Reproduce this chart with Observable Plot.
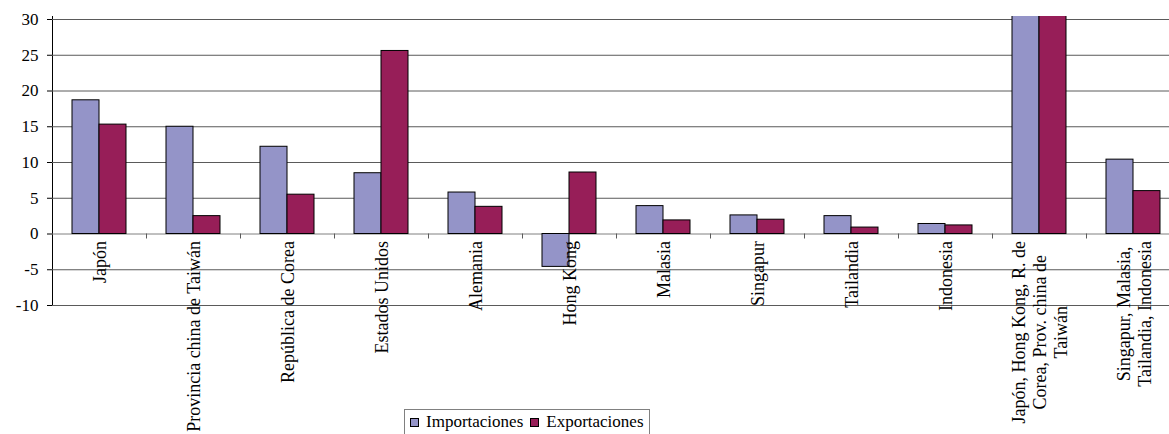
<!DOCTYPE html>
<html>
<head>
<meta charset="utf-8">
<script src="https://cdn.jsdelivr.net/npm/d3@7"></script>
<script src="https://cdn.jsdelivr.net/npm/@observablehq/plot@0.6"></script>
<style>
  body { margin: 0; background: #fff; }
  #wrap { position: relative; width: 1169px; height: 434px; overflow: hidden; font-family: 'Liberation Serif', 'Times New Roman', serif; background: #fff; }
  #wrap svg, #wrap svg g, #wrap svg text { font-family: 'Liberation Serif', 'Times New Roman', serif !important; }
  #legend { position: absolute; left: 404px; top: 409px; width: 246px; height: 40px; border: 1px solid #808080; background: #fff;
            font-size: 17px; line-height: 20px; padding: 2px 0 0 5px; box-sizing: border-box; white-space: nowrap; color: #000; }
  .sw { display: inline-block; width: 9px; height: 9px; box-sizing: border-box; border: 1px solid #000; margin-right: 7px; vertical-align: 0px; }
  .item2 { margin-left: 7px; }
</style>
</head>
<body>
<div id="wrap"></div>
<script>
// ---- data ----
const categories = [
  "Japón",
  "Provincia china de Taiwán",
  "República de Corea",
  "Estados Unidos",
  "Alemania",
  "Hong Kong",
  "Malasia",
  "Singapur",
  "Tailandia",
  "Indonesia",
  "Japón, Hong Kong, R. de\nCorea, Prov. china de\nTaiwán",
  "Singapur, Malasia,\nTailandia, Indonesia"
];
const series = ["Importaciones", "Exportaciones"];
const importaciones = [18.7, 15.0, 12.2, 8.5, 5.8, -4.6, 3.9, 2.6, 2.5, 1.4, 41.3, 10.4];
const exportaciones = [15.3, 2.5, 5.5, 25.6, 3.8, 8.6, 1.9, 2.0, 0.9, 1.2, 31.9, 6.0];
const yTicks = [-10, -5, 0, 5, 10, 15, 20, 25, 30];
const colors = ["#9494C8", "#971E58"];

const data = categories.flatMap((c, i) => [
  {categoria: c, serie: series[0], valor: importaciones[i]},
  {categoria: c, serie: series[1], valor: exportaciones[i]}
]);

const chart = Plot.plot({
  width: 1169,
  height: 434,
  marginLeft: 50,
  marginRight: -12,
  marginTop: 16,
  marginBottom: 129,
  style: {fontFamily: "'Liberation Serif', 'Times New Roman', serif", fontSize: "17px", color: "#000", background: "#fff", overflow: "visible"},
  fx: {domain: categories, padding: 0, axis: null, label: null},
  x: {domain: series, paddingInner: 0, paddingOuter: 0.71, axis: null},
  y: {domain: [-10, 30.42], ticks: yTicks, tickFormat: d => String(d), tickSize: 5, tickPadding: 9, line: true, label: null},
  color: {domain: series, range: colors},
  marks: [
    Plot.ruleY(yTicks.filter(d => d !== 0), {stroke: "#5a5a5a"}),
    Plot.ruleY([0], {stroke: "#808080"}),
    Plot.barY(data, {fx: "categoria", x: "serie", y: "valor", fill: "serie", stroke: "#000", strokeWidth: 1, clip: true}),
    Plot.text(categories, {fx: d => d, y: () => 0, text: d => d, rotate: -90, textAnchor: "end", lineAnchor: "middle",
                           lineHeight: 1.17, dy: 7, fontSize: 18, fill: "#000"})
  ]
});

const wrap = document.getElementById("wrap");
wrap.append(chart);

// center the lines of multi-line category labels within their block
d3.select(chart).selectAll("g[aria-label='text'] text").each(function() {
  const tspans = Array.from(this.querySelectorAll("tspan"));
  if (tspans.length < 2) return;
  const max = d3.max(tspans, t => t.getComputedTextLength());
  this.setAttribute("text-anchor", "middle");
  tspans.forEach(t => t.setAttribute("x", -max / 2));
});

// tick marks between category groups on the zero line
const fxS = chart.scale("fx"), yS = chart.scale("y");
const fxApply = fxS.apply ? fxS.apply : (c => fxS.range[0] + categories.indexOf(c) * (fxS.range[1] - fxS.range[0]) / categories.length);
const y0 = yS.apply(0);
const tg = d3.select(chart).append("g").attr("aria-label", "category ticks").attr("stroke", "#5a5a5a");
categories.slice(1).forEach(c => {
  const x = Math.round(fxApply(c)) + 0.5;
  tg.append("line").attr("x1", x).attr("x2", x).attr("y1", y0).attr("y2", y0 + 5);
});

// legend
const legend = document.createElement("div");
legend.id = "legend";
legend.innerHTML = series.map((s, i) =>
  `<span class="${i ? "item2" : ""}"><span class="sw" style="background:${colors[i]}"></span>${s}</span>`).join("");
wrap.append(legend);
</script>
</body>
</html>
